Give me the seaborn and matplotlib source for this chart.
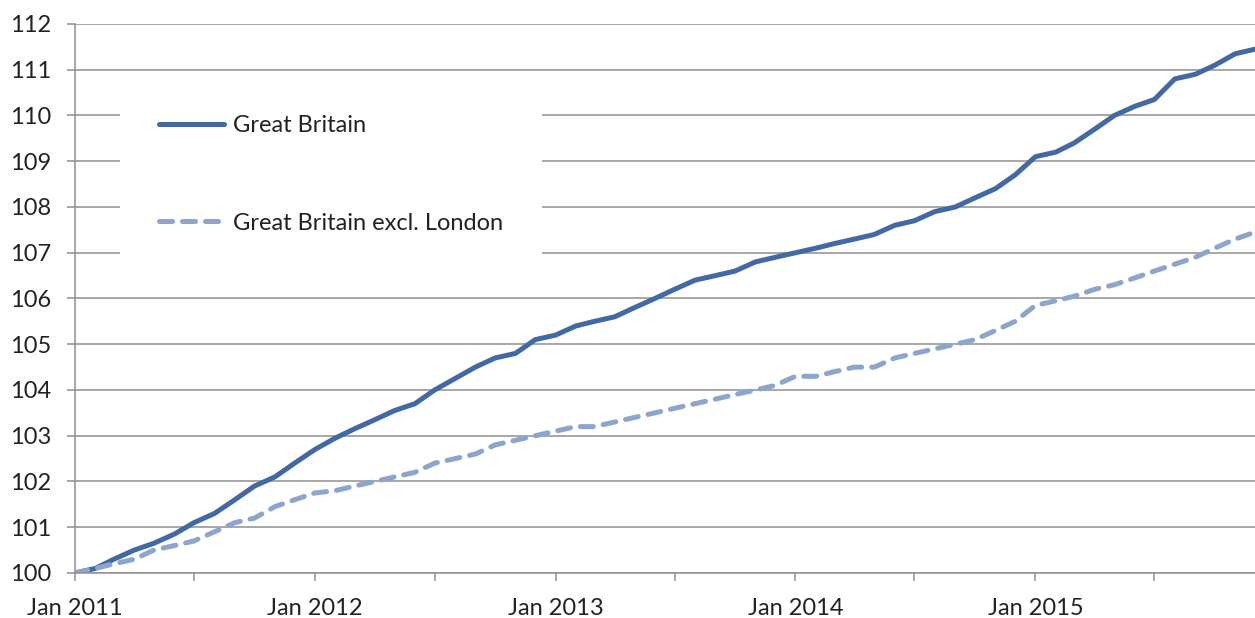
import numpy as np
import pandas as pd
import matplotlib
matplotlib.use('Agg')
import matplotlib.pyplot as plt
import matplotlib.dates as mdates
from matplotlib.ticker import FuncFormatter
import seaborn as sns

# 数据 (Jan 2011 = 100, 月度指数)
months = pd.date_range('2011-01-01', periods=60, freq='MS')

gb = [100.0, 100.1, 100.3, 100.5, 100.65, 100.85, 101.1, 101.3, 101.6, 101.9, 102.1, 102.4,
      102.7, 102.95, 103.15, 103.35, 103.55, 103.7, 104.0, 104.25, 104.5, 104.7, 104.8, 105.1,
      105.2, 105.4, 105.5, 105.6, 105.8, 106.0, 106.2, 106.4, 106.5, 106.6, 106.8, 106.9,
      107.0, 107.1, 107.2, 107.3, 107.4, 107.6, 107.7, 107.9, 108.0, 108.2, 108.4, 108.7,
      109.1, 109.2, 109.4, 109.7, 110.0, 110.2, 110.35, 110.8, 110.9, 111.1, 111.35, 111.45]

gb_excl_london = [100.0, 100.1, 100.2, 100.3, 100.5, 100.6, 100.7, 100.9, 101.1, 101.2, 101.45, 101.6,
                  101.75, 101.8, 101.9, 102.0, 102.1, 102.2, 102.4, 102.5, 102.6, 102.8, 102.9, 103.0,
                  103.1, 103.2, 103.2, 103.3, 103.4, 103.5, 103.6, 103.7, 103.8, 103.9, 104.0, 104.1,
                  104.3, 104.3, 104.4, 104.5, 104.5, 104.7, 104.8, 104.9, 105.0, 105.1, 105.3, 105.5,
                  105.85, 105.95, 106.05, 106.2, 106.3, 106.45, 106.6, 106.75, 106.9, 107.1, 107.3, 107.45]

series_names = ['Great Britain', 'Great Britain excl. London']
colors = {'Great Britain': '#4169a5', 'Great Britain excl. London': '#8ca5cd'}
dashes = {'Great Britain': '', 'Great Britain excl. London': (2.6, 2.0)}

df = pd.DataFrame({'month': months, 'Great Britain': gb,
                   'Great Britain excl. London': gb_excl_london})
df_long = df.melt(id_vars='month', var_name='series', value_name='index')

# 样式
sns.set_theme(style='white')
plt.rcParams['font.family'] = ['Lato', 'DejaVu Sans']
grid_color = '#8f8f8f'
text_color = '#222222'
fsize = 17

fig = plt.figure(figsize=(12.55, 6.18), dpi=100)
ax = fig.add_axes([75 / 1255, 1 - 573 / 618, 1 - 75 / 1255, (573 - 24) / 618])

sns.lineplot(data=df_long, x='month', y='index', hue='series', style='series',
             palette=colors, dashes=dashes, linewidth=3.6, ax=ax, legend=False)
for line in ax.lines:
    line.set_dash_capstyle('round')
    line.set_solid_capstyle('round')

ax.set_ylim(100, 112)
ax.set_yticks(np.arange(100, 113, 1))
ax.set_xlim(months[0], months[-1])
ax.xaxis.set_major_locator(mdates.MonthLocator(bymonth=[1, 7]))
ax.xaxis.set_major_formatter(FuncFormatter(
    lambda v, pos: mdates.num2date(v).strftime('Jan %Y') if mdates.num2date(v).month == 1 else ''))

ax.set_xlabel('')
ax.set_ylabel('')
ax.yaxis.grid(True, color=grid_color, linewidth=1.1)
ax.xaxis.grid(False)
for side in ['top', 'right']:
    ax.spines[side].set_visible(False)
for side in ['left', 'bottom']:
    ax.spines[side].set_color(grid_color)
    ax.spines[side].set_linewidth(1.1)

ax.tick_params(axis='both', which='major', direction='out', length=6, width=1.1,
               color=grid_color, labelsize=fsize, labelcolor=text_color)
ax.tick_params(axis='y', pad=11)
ax.tick_params(axis='x', pad=12)
ax.tick_params(left=True, bottom=True)

# 图例
h1 = plt.Line2D([], [], color=colors[series_names[0]], linewidth=3.6, solid_capstyle='round')
h2 = plt.Line2D([], [], color=colors[series_names[1]], linewidth=3.6, linestyle='--',
                dash_capstyle='round')
h2.set_dashes(dashes[series_names[1]])
leg = ax.legend([h1, h2], series_names, loc='upper left',
                bbox_to_anchor=(45 / 1180, (573 - 76) / 549),
                frameon=True, facecolor='white', edgecolor='none', framealpha=1,
                fontsize=fsize, handlelength=2.75, handletextpad=0.4, labelspacing=3.25,
                borderpad=1.65, borderaxespad=0, fancybox=False)
for t in leg.get_texts():
    t.set_color(text_color)

plt.savefig('out.png', dpi=100)
